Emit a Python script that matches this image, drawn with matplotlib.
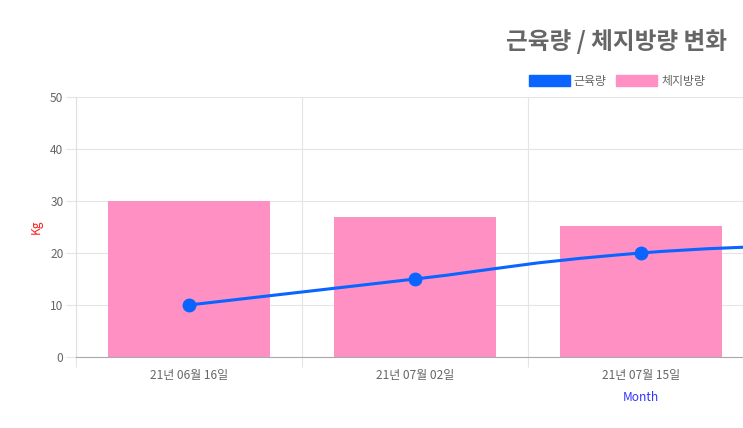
import numpy as np
import matplotlib
matplotlib.use("Agg")
import matplotlib.pyplot as plt
from matplotlib.path import Path
from matplotlib.patches import PathPatch, Patch

plt.rcParams['font.family'] = ['Noto Sans CJK KR', 'DejaVu Sans']

# data (the chart is wider than the picture; last two categories are off-screen)
dates = ['21년 06월 16일', '21년 07월 02일', '21년 07월 15일', '21년 08월 01일', '21년 08월 15일']
muscle = [10, 15, 20, 22, 23]
body_fat = [30, 27, 25.2, 24, 23]

W, H = 743, 428
fig = plt.figure(figsize=(W / 100, H / 100), dpi=100)

# plot area in pixels (runs past the right edge like the original canvas)
left, right, top, bottom = 76, 1206, 97, 357
ax = fig.add_axes([left / W, 1 - bottom / H, (right - left) / W, (bottom - top) / H])

x = np.arange(len(dates))
ax.bar(x, body_fat, width=0.72, color='#ff90c4', zorder=2)

# smooth line like chart.js (tension 0.4) drawn as bezier segments
def bezier_path(xs, ys, t=0.4):
    n = len(xs)
    verts = [(xs[0], ys[0])]
    codes = [Path.MOVETO]
    cps = []
    for i in range(n):
        p = np.array([xs[i], ys[i]], float)
        prev = np.array([xs[max(i - 1, 0)], ys[max(i - 1, 0)]], float)
        nxt = np.array([xs[min(i + 1, n - 1)], ys[min(i + 1, n - 1)]], float)
        d01 = np.hypot(*(p - prev))
        d12 = np.hypot(*(nxt - p))
        s = d01 + d12
        fa = t * d01 / s if s else 0
        fb = t * d12 / s if s else 0
        cps.append((p - fa * (nxt - prev), p + fb * (nxt - prev)))
    for i in range(1, n):
        verts += [tuple(cps[i - 1][1]), tuple(cps[i][0]), (xs[i], ys[i])]
        codes += [Path.CURVE4] * 3
    return Path(verts, codes)

ax.add_patch(PathPatch(bezier_path(x, muscle), facecolor='none', edgecolor='#0a64ff',
                       lw=2.2, zorder=3))
ax.plot(x, muscle, 'o', color='#0a64ff', markersize=9, zorder=4)

ax.set_xlim(-0.5, len(dates) - 0.5)
ax.set_ylim(0, 50)
ax.set_yticks(range(0, 51, 10))

ax.set_xticks(np.arange(-0.5, len(dates)), minor=False)
ax.set_xticklabels([])
ax.set_xticks(x, minor=True)
ax.set_xticklabels(dates, minor=True)
# labels of the categories that fall outside the visible canvas
for lbl in ax.get_xticklabels(minor=True)[3:]:
    lbl.set_visible(False)
ax.tick_params(axis='x', which='major', length=7, color='#e5e5e5')
ax.tick_params(axis='x', which='minor', length=0, pad=9, labelsize=8.6, labelcolor='#666666')
ax.tick_params(axis='y', length=7, color='#e5e5e5', pad=2, labelsize=8.6, labelcolor='#666666')

ax.grid(True, which='major', color='#e5e5e5', linewidth=0.8, zorder=0)
ax.set_axisbelow(True)
for s in ['top', 'right']:
    ax.spines[s].set_visible(False)
ax.spines['left'].set_color('#e0e0e0')
ax.spines['bottom'].set_color('#aaaaaa')

ax.set_ylabel('Kg', color='#ff2020', fontsize=8.6, labelpad=5)
ax.set_xlabel('Month', color='#3333ff', fontsize=8.6, labelpad=6)

fig.text(617 / W, 1 - 42 / H, '근육량 / 체지방량 변화', ha='center', va='center',
         fontsize=17, fontweight='bold', color='#666666')

handles = [Patch(facecolor='#0a64ff', edgecolor='#0a64ff'),
           Patch(facecolor='#ff90c4', edgecolor='#ff90c4')]
fig.legend(handles, ['근육량', '체지방량'], loc='center', bbox_to_anchor=(617 / W, 1 - 81 / H),
           ncol=2, frameon=False, fontsize=8.6, labelcolor='#666666',
           handlelength=3.4, handleheight=1.1, handletextpad=0.35, columnspacing=0.8)

fig.savefig('out.png', dpi=100)
